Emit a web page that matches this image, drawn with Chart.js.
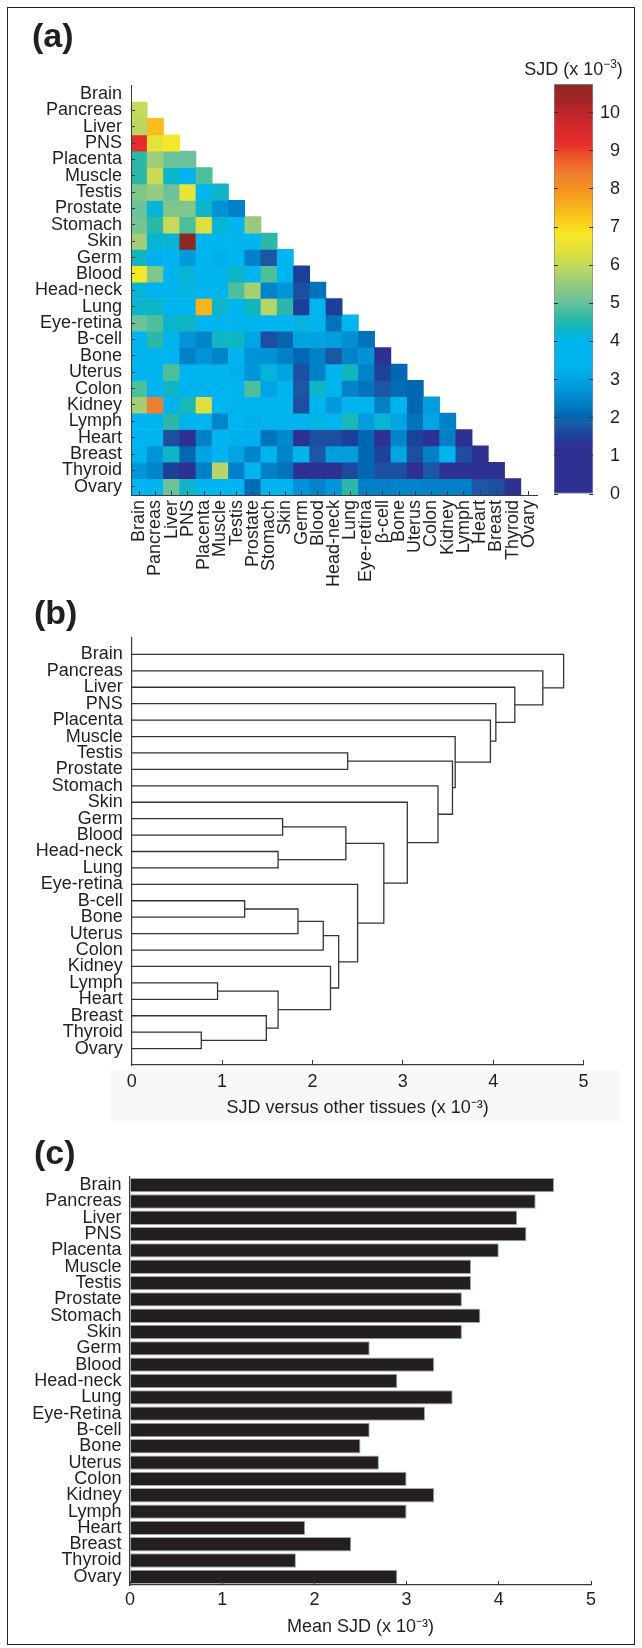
<!DOCTYPE html>
<html>
<head>
<meta charset="utf-8">
<script src="https://cdn.jsdelivr.net/npm/chart.js@4.4.1/dist/chart.umd.min.js"></script>
<style>
  body { margin: 0; background: #fff; }
  #page { position: relative; width: 642px; height: 1648px; overflow: hidden; font-family: "Liberation Sans", Arial, sans-serif; color: #231f20; }
  .frame { position: absolute; left: 7px; top: 7px; width: 628px; height: 1638px; border: 1.5px solid #231f20; box-sizing: border-box; z-index: 10; pointer-events: none; }
  .panel { position: absolute; font-weight: bold; font-size: 34px; line-height: 1; z-index: 5; }
  .shade { position: absolute; left: 111px; top: 1070px; width: 508px; height: 51px; background: #f8f8f8; }
  .cbtitle { position: absolute; left: 508px; top: 58px; width: 131px; text-align: center; font-size: 18px; line-height: 22px; z-index: 5; }
  .cbtitle sup { font-size: 12px; line-height: 0; vertical-align: 7px; }
  canvas { position: absolute; }
</style>
</head>
<body>
<div id="page">
  <div class="shade"></div>
  <canvas id="heatmap" width="560" height="600" style="left:0; top:0;"></canvas>
  <canvas id="colorbar" width="142" height="600" style="left:500px; top:0;"></canvas>
  <canvas id="dendro" width="642" height="535" style="left:0; top:590px;"></canvas>
  <canvas id="bars" width="642" height="523" style="left:0; top:1125px;"></canvas>
  <div class="panel" style="left:32px; top:18px;">(a)</div>
  <div class="panel" style="left:34px; top:595px;">(b)</div>
  <div class="panel" style="left:34px; top:1135px;">(c)</div>
  <div class="cbtitle">SJD (x 10<sup>&minus;3</sup>)</div>
  <div class="frame"></div>
</div>
<script>
// tissue names, in the order used by all three panels
const tissues = ["Brain", "Pancreas", "Liver", "PNS", "Placenta", "Muscle", "Testis", "Prostate",
  "Stomach", "Skin", "Germ", "Blood", "Head-neck", "Lung", "Eye-retina", "B-cell", "Bone",
  "Uterus", "Colon", "Kidney", "Lymph", "Heart", "Breast", "Thyroid", "Ovary"];
const heatColLabels = ["Brain", "Pancreas", "Liver", "PNS", "Placenta", "Muscle", "Testis", "Prostate",
  "Stomach", "Skin", "Germ", "Blood", "Head-neck", "Lung", "Eye-retina", "\u03B2-cell", "Bone",
  "Uterus", "Colon", "Kidney", "Lymph", "Heart", "Breast", "Thyroid", "Ovary"];
const barLabels = ["Brain", "Pancreas", "Liver", "PNS", "Placenta", "Muscle", "Testis", "Prostate",
  "Stomach", "Skin", "Germ", "Blood", "Head-neck", "Lung", "Eye-Retina", "B-cell", "Bone",
  "Uterus", "Colon", "Kidney", "Lymph", "Heart", "Breast", "Thyroid", "Ovary"];

// (a) pairwise SJD (x 10^-3), lower triangle, row r holds columns 0..r-1
const sjdRows = [
  [],
  [6.0],
  [5.9, 7.4],
  [9.2, 6.45, 6.8],
  [4.6, 5.6, 5.05, 5.05],
  [4.6, 6.05, 4.3, 3.7, 4.85],
  [5.3, 5.5, 5.05, 6.5, 3.7, 4.3],
  [5.05, 4.2, 5.3, 5.3, 4.3, 2.7, 2.4],
  [5.15, 4.6, 6.0, 4.85, 6.3, 4.2, 3.8, 5.5],
  [5.65, 4.2, 4.2, 10.7, 3.9, 3.7, 3.7, 3.5, 4.6],
  [4.35, 3.3, 3.7, 2.8, 3.8, 3.3, 3.6, 2.4, 1.8, 3.7],
  [6.75, 5.3, 3.8, 4.2, 3.9, 3.4, 4.3, 3.5, 4.85, 3.7, 1.5],
  [4.2, 3.4, 3.6, 4.1, 3.7, 3.7, 4.85, 5.7, 2.5, 2.75, 1.7, 2.2],
  [4.25, 4.3, 3.6, 3.6, 7.5, 4.3, 3.5, 4.35, 5.85, 4.6, 1.5, 3.6, 1.5],
  [5.05, 4.85, 4.25, 4.35, 3.7, 3.7, 3.7, 3.7, 3.7, 3.7, 4.15, 4.0, 2.2, 3.7],
  [3.7, 4.6, 3.7, 2.7, 2.5, 4.3, 4.35, 3.0, 1.7, 2.0, 3.0, 3.0, 2.9, 2.65, 2.2],
  [3.7, 3.5, 3.7, 2.4, 2.7, 2.5, 3.5, 2.7, 2.7, 2.4, 2.05, 2.4, 1.8, 2.45, 2.7, 1.0],
  [3.7, 3.7, 4.85, 3.7, 3.7, 3.7, 3.3, 2.75, 4.15, 3.0, 1.7, 2.4, 3.6, 4.35, 2.45, 1.55, 2.05],
  [4.85, 3.5, 4.3, 3.7, 3.7, 3.7, 3.7, 4.85, 3.0, 3.6, 1.8, 4.3, 3.5, 2.45, 2.2, 1.8, 2.1, 2.05],
  [5.65, 8.4, 3.5, 4.45, 6.3, 3.7, 3.7, 3.7, 3.7, 3.7, 1.7, 3.6, 2.8, 3.5, 3.5, 2.4, 3.5, 2.05, 2.9],
  [3.7, 3.6, 4.6, 3.4, 3.5, 2.5, 3.6, 3.3, 3.6, 3.6, 3.7, 4.1, 3.7, 4.45, 2.85, 4.2, 3.0, 2.2, 3.0, 2.4],
  [3.7, 3.6, 1.7, 1.1, 2.4, 3.6, 3.3, 3.3, 2.2, 2.55, 1.2, 1.7, 1.7, 1.5, 2.05, 1.2, 2.5, 1.55, 1.2, 2.4, 1.1],
  [3.6, 2.7, 4.3, 2.05, 3.0, 3.6, 3.0, 2.5, 3.6, 2.5, 3.6, 1.8, 2.9, 2.9, 2.05, 1.55, 3.0, 1.7, 2.4, 3.6, 1.7, 1.2],
  [2.75, 2.5, 1.5, 1.1, 2.4, 5.85, 2.4, 3.6, 2.4, 2.2, 1.1, 1.0, 1.05, 1.65, 2.05, 1.7, 1.7, 1.3, 1.8, 1.1, 1.1, 1.2, 1.1],
  [3.5, 3.5, 5.05, 4.3, 3.5, 3.6, 3.5, 2.1, 3.6, 3.6, 2.7, 2.5, 2.75, 4.6, 2.4, 2.4, 2.5, 2.5, 2.4, 2.4, 2.4, 1.8, 1.7, 1.1]
];
const colorbarRange = [0, 10.75];
const colorbarTicks = [0, 1, 2, 3, 4, 5, 6, 7, 8, 9, 10];

// (b) linkage: node 25+k joins linkLeft[k] and linkRight[k] at linkHeight[k]
const linkLeft = [23, 20, 15, 22, 12, 26, 10, 27, 32, 19, 33, 31, 6, 14, 36, 9, 8, 37, 5, 4, 3, 2, 1, 0];
const linkRight = [24, 21, 16, 25, 13, 28, 11, 17, 18, 30, 34, 29, 7, 35, 38, 39, 40, 41, 42, 43, 44, 45, 46, 47];
const linkHeight = [0.77, 0.95, 1.25, 1.49, 1.62, 1.62, 1.67, 1.84, 2.12, 2.2, 2.29, 2.37, 2.39, 2.5,
  2.79, 3.05, 3.39, 3.55, 3.58, 3.97, 4.03, 4.24, 4.55, 4.78];
const axisTicks05 = [0, 1, 2, 3, 4, 5];

// (c) mean SJD per tissue
const meanSJD = [4.6, 4.4, 4.2, 4.3, 4.0, 3.7, 3.7, 3.6, 3.8, 3.6, 2.6, 3.3, 2.9, 3.5, 3.2,
  2.6, 2.5, 2.7, 3.0, 3.3, 3.0, 1.9, 2.4, 1.8, 2.9];

// jet-like colour map as printed
const cmapStops = [
  [0, "#2e3192"], [1.3, "#2e3192"], [1.5, "#1c3f99"], [1.7, "#1c4fa0"], [1.85, "#1c5ba8"],
  [2.05, "#0068b2"], [2.2, "#0073bb"], [2.4, "#0080c6"], [2.55, "#0088cc"], [2.75, "#0096da"],
  [3.0, "#00a4e2"], [3.3, "#00b0ee"], [3.5, "#00b5ef"], [4.0, "#00b5ef"], [4.2, "#08b4d4"],
  [4.35, "#10b5bf"], [4.6, "#2cb8a8"], [4.85, "#4dbf9d"], [5.05, "#6cc29b"], [5.3, "#80c68a"],
  [5.5, "#95ca80"], [5.7, "#a8ce74"], [5.85, "#b7d468"], [6.0, "#c5d95a"], [6.25, "#d8de42"],
  [6.5, "#e8e338"], [6.8, "#f5e82a"], [7.1, "#fbd21c"], [7.5, "#f8b51e"], [8.0, "#f4911f"],
  [8.4, "#ef7f30"], [8.8, "#ee5a2a"], [9.2, "#e52d2a"], [9.7, "#d0282c"], [10.2, "#ae232a"],
  [10.75, "#8a2a22"]
];

const font = "'Liberation Sans', Arial, sans-serif";
const ink = "#231f20";
const axisInk = "#3a3a3a";

function hexRgb(h) {
  return [1, 3, 5].map(i => parseInt(h.slice(i, i + 2), 16));
}

function sjdColor(v) {
  for (let i = 1; i < cmapStops.length; i++) {
    if (v <= cmapStops[i][0]) {
      const a = hexRgb(cmapStops[i - 1][1]);
      const b = hexRgb(cmapStops[i][1]);
      const t = (v - cmapStops[i - 1][0]) / (cmapStops[i][0] - cmapStops[i - 1][0]);
      const c = a.map((x, k) => Math.round(x + (b[k] - x) * t));
      return "rgb(" + c.join(",") + ")";
    }
  }
  return cmapStops[cmapStops.length - 1][1];
}

Chart.defaults.font.family = font;
Chart.defaults.font.size = 18;
Chart.defaults.color = ink;
Chart.defaults.animation = false;
Chart.defaults.plugins.legend.display = false;
Chart.defaults.plugins.tooltip.enabled = false;

// (a) heatmap

const heatSets = sjdRows.map((row, r) => ({
  data: tissues.map((_, c) => c < r ? [r, r + 1] : null),
  backgroundColor: tissues.map((_, c) => c < r ? sjdColor(row[c]) : "rgba(0,0,0,0)"),
  borderWidth: 0,
  grouped: false,
  barPercentage: 1,
  categoryPercentage: 1
}));

new Chart(document.getElementById("heatmap"), {
  type: "bar",
  data: { labels: heatColLabels, datasets: heatSets },
  options: {
    responsive: false,
    devicePixelRatio: 1,
    layout: { padding: { top: 85.7, right: 22, left: 0, bottom: 0 } },
    scales: {
      x: {
        ticks: { autoSkip: false, minRotation: 90, maxRotation: 90, padding: 9, color: ink },
        grid: { drawOnChartArea: false, offset: false, tickLength: -4, color: axisInk, z: 1 },
        border: { color: axisInk, width: 1, z: 1 },
        afterFit: (s) => { s.height = 105; }
      },
      y: {
        type: "linear",
        reverse: true,
        min: 0,
        max: tissues.length,
        afterBuildTicks: (s) => { s.ticks = tissues.map((_, i) => ({ value: i + 0.5 })); },
        ticks: { autoSkip: false, padding: 13, callback: (v) => tissues[Math.floor(v)] },
        grid: {
          drawOnChartArea: false, tickLength: -4, z: 1,
          color: (c) => c.index === 0 ? "rgba(0,0,0,0)" : axisInk
        },
        border: { color: axisInk, width: 1, z: 1 },
        afterFit: (s) => { s.width = 131; }
      }
    }
  }
});

// colour bar

function colorbarFill(ctx) {
  const chart = ctx.chart;
  if (!chart.chartArea) return cmapStops[0][1];
  const y = chart.scales.y;
  const top = y.getPixelForValue(colorbarRange[1]);
  const bottom = y.getPixelForValue(colorbarRange[0]);
  const g = chart.ctx.createLinearGradient(0, bottom, 0, top);
  cmapStops.forEach(([v, c]) => {
    g.addColorStop((v - colorbarRange[0]) / (colorbarRange[1] - colorbarRange[0]), c);
  });
  return g;
}

new Chart(document.getElementById("colorbar"), {
  type: "bar",
  data: {
    labels: [""],
    datasets: [{
      data: [colorbarRange],
      backgroundColor: colorbarFill,
      borderColor: "#8c8c8c",
      borderWidth: 1,
      borderSkipped: false,
      barPercentage: 1,
      categoryPercentage: 1
    }]
  },
  options: {
    responsive: false,
    devicePixelRatio: 1,
    layout: { padding: { top: 84, right: 22, left: 54, bottom: 106 } },
    scales: {
      x: { display: false },
      y: {
        position: "right",
        min: colorbarRange[0],
        max: colorbarRange[1],
        afterBuildTicks: (s) => { s.ticks = colorbarTicks.map(v => ({ value: v })); },
        ticks: { crossAlign: "far", color: ink },
        grid: { drawOnChartArea: true, drawTicks: false, color: "#333", z: 1 },
        border: { display: false, dash: [4, 31], z: 1 },
        afterFit: (s) => { s.width = 27; }
      }
    }
  }
});

// (b) dendrogram built from the linkage

const nodeY = tissues.map((_, i) => i + 1);
const nodeH = tissues.map(() => 0);
const dendroSets = linkHeight.map((h, k) => {
  const a = linkLeft[k];
  const b = linkRight[k];
  const pts = [
    { x: nodeH[a], y: nodeY[a] },
    { x: h, y: nodeY[a] },
    { x: h, y: nodeY[b] },
    { x: nodeH[b], y: nodeY[b] }
  ];
  nodeY.push((nodeY[a] + nodeY[b]) / 2);
  nodeH.push(h);
  return {
    data: pts,
    showLine: true,
    borderColor: "#333",
    borderWidth: 1.3,
    pointRadius: 0,
    tension: 0
  };
});

new Chart(document.getElementById("dendro"), {
  type: "scatter",
  data: { datasets: dendroSets },
  options: {
    responsive: false,
    devicePixelRatio: 1,
    layout: { padding: { top: 48, right: 58.5, left: 0, bottom: 0 } },
    scales: {
      x: {
        type: "linear",
        min: 0,
        max: 5,
        afterBuildTicks: (s) => { s.ticks = axisTicks05.map(v => ({ value: v })); },
        ticks: { padding: 11, color: ink },
        grid: { drawOnChartArea: false, tickLength: -5, color: axisInk },
        border: { color: axisInk, width: 1.2 },
        title: { display: true, text: "SJD versus other tissues (x 10\u207B\u00B3)", color: ink, padding: { top: 0, bottom: 6 } },
        afterFit: (s) => { s.height = 60; }
      },
      y: {
        type: "linear",
        reverse: true,
        min: 0,
        max: tissues.length + 1,
        afterBuildTicks: (s) => { s.ticks = tissues.map((_, i) => ({ value: i + 1 })); },
        ticks: { autoSkip: false, padding: 9, callback: (v) => tissues[v - 1] },
        grid: { display: false, drawTicks: false },
        border: { color: axisInk, width: 1.2 },
        afterFit: (s) => { s.width = 131.7; }
      }
    }
  }
});

// (c) mean SJD

new Chart(document.getElementById("bars"), {
  type: "bar",
  data: {
    labels: barLabels,
    datasets: [{
      data: meanSJD,
      backgroundColor: "#231f20",
      borderColor: "#a8a8a8",
      borderWidth: 1,
      barPercentage: 0.88,
      categoryPercentage: 1
    }]
  },
  options: {
    indexAxis: "y",
    responsive: false,
    devicePixelRatio: 1,
    layout: { padding: { top: 52, right: 51, left: 0, bottom: 0 } },
    scales: {
      x: {
        min: 0,
        max: 5,
        afterBuildTicks: (s) => { s.ticks = axisTicks05.map(v => ({ value: v })); },
        ticks: { padding: 8, color: ink },
        grid: { drawOnChartArea: false, tickLength: -4, color: axisInk, z: 1 },
        border: { color: axisInk, width: 1.2, z: 1 },
        title: { display: true, text: "Mean SJD (x 10\u207B\u00B3)", color: ink, padding: { top: 0, bottom: 10 } },
        afterFit: (s) => { s.height = 63; }
      },
      y: {
        ticks: { autoSkip: false, padding: 8.6, color: ink },
        grid: { display: false, drawTicks: false },
        border: { color: axisInk, width: 1.2 },
        afterFit: (s) => { s.width = 130; }
      }
    }
  }
});
</script>
</body>
</html>
